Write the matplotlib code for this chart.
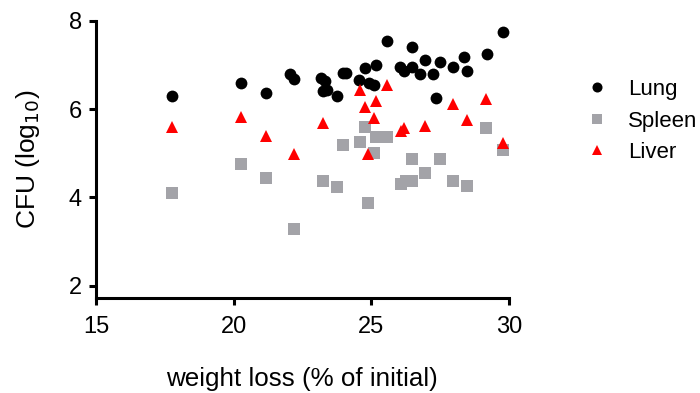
import matplotlib.pyplot as plt

plt.rcParams['font.family'] = ['Liberation Sans', 'DejaVu Sans']

# weight loss (% of initial) and CFU (log10) per organ
lung_x = [17.78, 20.28, 21.18, 22.06, 22.2, 23.17, 23.31, 23.26, 23.38, 23.77, 23.98, 24.1,
          24.56, 24.77, 24.92, 25.09, 25.19, 25.57, 26.06, 26.18, 26.49, 26.49, 26.78, 26.97,
          27.26, 27.36, 27.48, 27.96, 28.37, 28.49, 29.19, 29.77]
lung_y = [6.30, 6.58, 6.36, 6.79, 6.69, 6.70, 6.63, 6.40, 6.43, 6.30, 6.81, 6.82,
          6.66, 6.92, 6.58, 6.55, 7.00, 7.55, 6.96, 6.87, 7.41, 6.96, 6.79, 7.11,
          6.79, 6.24, 7.07, 6.94, 7.18, 6.87, 7.25, 7.75]

spleen_x = [17.78, 20.28, 21.18, 22.18, 23.26, 23.77, 23.98, 24.59, 24.78, 25.19, 25.57, 25.09,
            24.88, 26.49, 27.48, 26.97, 26.09, 26.28, 26.49, 27.96, 28.48, 29.17, 29.77]
spleen_y = [4.11, 4.76, 4.44, 3.28, 4.36, 4.24, 5.19, 5.26, 5.59, 5.37, 5.37, 5.00,
            3.88, 4.88, 4.88, 4.55, 4.30, 4.36, 4.38, 4.36, 4.26, 5.56, 5.07]

liver_x = [17.78, 20.28, 21.18, 22.18, 23.26, 24.59, 24.78, 25.19, 25.09, 25.57, 24.88, 26.09,
           26.19, 26.97, 27.96, 28.48, 29.17, 29.77]
liver_y = [5.60, 5.83, 5.39, 4.98, 5.68, 6.42, 6.04, 6.18, 5.79, 6.55, 4.98, 5.50,
           5.56, 5.62, 6.11, 5.75, 6.22, 5.22]

fig = plt.figure(figsize=(7, 3.93), dpi=100)
ax = fig.add_axes([0.137, 0.2425, 0.59, 0.705])

ax.plot(lung_x, lung_y, 'o', color='black', ms=8.5, mew=0, label='Lung', clip_on=False)
ax.plot(spleen_x, spleen_y, 's', color='#a3a3a8', ms=8, mew=0, label='Spleen', clip_on=False)
ax.plot(liver_x, liver_y, '^', color='red', ms=8.5, mew=0, label='Liver', clip_on=False)

ax.set_xlim(15, 30)
ax.set_ylim(1.73, 8)
ax.set_xticks([15, 20, 25, 30])
ax.set_yticks([2, 4, 6, 8])

for side in ['top', 'right']:
    ax.spines[side].set_visible(False)
for side in ['left', 'bottom']:
    ax.spines[side].set_linewidth(2.2)
ax.tick_params(width=2.2, length=5, labelsize=17)
ax.tick_params(axis='x', pad=8)
ax.tick_params(axis='y', pad=5)

ax.set_xlabel('weight loss (% of initial)', fontsize=18.7, labelpad=21)
ax.set_ylabel('CFU (log$_{10}$)', fontsize=19, labelpad=19)

ax.legend(loc='center left', bbox_to_anchor=(0.8366, 0.692), bbox_transform=fig.transFigure,
          frameon=False, fontsize=16, handletextpad=0.92, labelspacing=0.48,
          borderaxespad=0, borderpad=0, handlelength=1.0, markerscale=0.85)

fig.savefig('out.png', dpi=100)
